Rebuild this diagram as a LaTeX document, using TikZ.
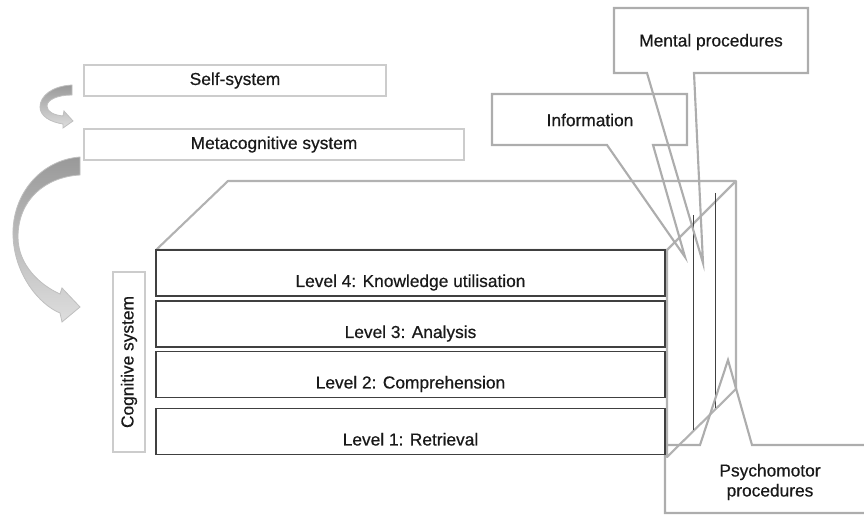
\documentclass[tikz,border=0pt]{standalone}
\usepackage{fontspec}
\setmainfont{Liberation Sans}
\newfontfamily\diagfont{Liberation Sans}[FakeBold=0.5]
\begin{document}
\begin{tikzpicture}[x=0.75pt, y=-0.75pt, font=\diagfont\fontsize{13}{15}\selectfont, text=black!90]
    \tikzstyle{sys_style} = [draw=black!20, line width=1.5pt, rectangle, fill=white, inner sep=0pt]
    \tikzstyle{level_style} = [draw=black!75, line width=1.1pt, rectangle, fill=white, minimum width=381.75pt, minimum height=34.5pt, inner sep=0pt, text height=21pt, text depth=0pt]
    \tikzstyle{cube_style} = [draw=black!30, line width=1.6pt, line join=round]
    \tikzstyle{call_style} = [draw=black!32, line width=1.6pt]
    \tikzstyle{slice_style} = [draw=black!75, line width=0.6pt]
    \tikzstyle{arrow_fill} = [draw=black!25, line width=0.6pt, top color=black!40, bottom color=black!13]

    \clip (0,0) rectangle (864,516);

    % the box round the levels
    \draw[cube_style] (156,250) -- (228,181) -- (736,181) -- (736,389) -- (667,457) -- (667,250) -- cycle;
    \draw[cube_style] (667,250) -- (736,181);
    \draw[slice_style] (693,215) -- (693,430);
    \draw[slice_style] (715,193) -- (715,408);

    % callouts
    \draw[call_style] (492,94) -- (687,94) -- (687,145) -- (653,145) -- (685,257) -- (607,145) -- (492,145) -- cycle;
    \draw[call_style] (614,8) -- (808,8) -- (808,73) -- (694,73) -- (703,263) -- (647,73) -- (614,73) -- cycle;
    \draw[call_style] (665,445) -- (700,445) -- (728,360) -- (752,445) -- (880,445) -- (880,513) -- (665,513) -- cycle;
    \node (info) at (590,120) {Information};
    \node (mental) at (711,42) {Mental procedures};
    \node[align=center] (psycho) at (770,482) {Psychomotor\\procedures};

    % systems
    \node[sys_style, minimum width=226.5pt, minimum height=23.25pt] (self) at (235,80.5) {Self-system};
    \node[sys_style, minimum width=285pt, minimum height=23.25pt] (meta) at (274,144.5) {Metacognitive system};
    \node[sys_style, rotate=90, minimum width=135pt, minimum height=24pt] (cog) at (129,362) {Cognitive system};

    % levels
    \node[level_style] (lev4) at (410.5,273) {Level 4: Knowledge utilisation};
    \node[level_style] (lev3) at (410.5,324) {Level 3: Analysis};
    \node[level_style] (lev2) at (410.5,374.5) {Level 2: Comprehension};
    \node[level_style] (lev1) at (410.5,431.5) {Level 1: Retrieval};

    % curved arrows
    \draw[arrow_fill] (72,85) .. controls (52,86) and (40,96) .. (40,107) .. controls (40,116) and (50,122) .. (63,124) -- (63,128) -- (73,121) -- (64,111) -- (63,116) .. controls (54,115) and (47,112) .. (47,106) .. controls (47,100) and (57,95) .. (72,95) -- cycle;
    \draw[arrow_fill] (80,157) .. controls (40,160) and (12,195) .. (13,235) .. controls (14,275) and (40,305) .. (60,313) -- (62,322) -- (80,307) -- (62,288) -- (60,294) .. controls (40,285) and (18,265) .. (18,237) .. controls (18,200) and (45,177) .. (80,175) -- cycle;
\end{tikzpicture}
\end{document}
